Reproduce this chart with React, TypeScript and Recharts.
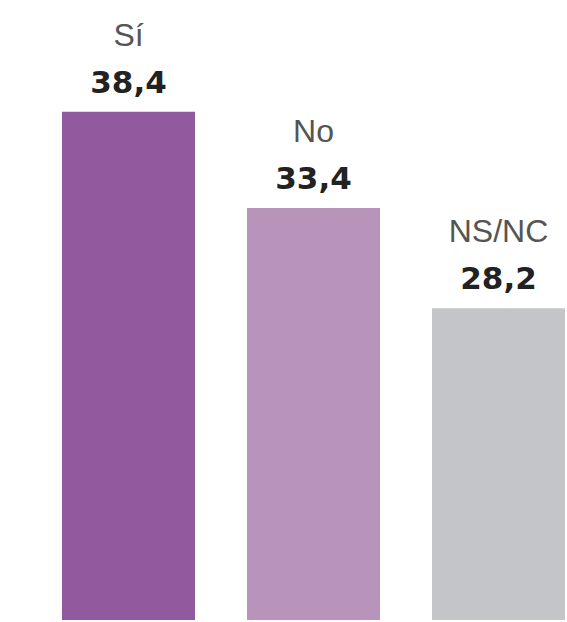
import { BarChart, Bar, XAxis, YAxis, Cell, LabelList } from "recharts";

const CATEGORIES = ["Sí", "No", "NS/NC"];
const VALUES = [38.4, 33.4, 28.2];
const COLORS = ["#915a9e", "#b894bb", "#c3c5c8"];

const data = CATEGORIES.map((name, i) => ({ name, value: VALUES[i] }));

const fmt = (v: number) => v.toFixed(1).replace(".", ",");

function TopLabel(props: any) {
  const { x, y, width, index } = props;
  const cx = x + width / 2;
  return (
    <g>
      <text
        x={cx}
        y={y - 66}
        textAnchor="middle"
        fill="#555"
        fontFamily="Liberation Sans, Arial, sans-serif"
        fontSize={32}
      >
        {CATEGORIES[index]}
      </text>
      <text
        x={cx}
        y={y - 19}
        textAnchor="middle"
        fill="#222"
        fontFamily="DejaVu Sans, sans-serif"
        fontWeight="bold"
        fontSize={31}
      >
        {fmt(VALUES[index])}
      </text>
    </g>
  );
}

export default function App() {
  return (
    <div
      style={{
        position: "absolute",
        top: 0,
        left: 0,
        width: 567,
        height: 622,
        overflow: "hidden",
        background: "#fff",
      }}
    >
      <BarChart
        width={591}
        height={622}
        data={data}
        margin={{ top: 81, right: 0, bottom: 2, left: 36 }}
        barSize={133}
      >
        <XAxis dataKey="name" hide />
        <YAxis hide domain={[12, 40]} allowDataOverflow />
        <Bar dataKey="value" isAnimationActive={false}>
          {data.map((_, i) => (
            <Cell key={i} fill={COLORS[i]} />
          ))}
          <LabelList dataKey="value" content={TopLabel} />
        </Bar>
      </BarChart>
    </div>
  );
}
